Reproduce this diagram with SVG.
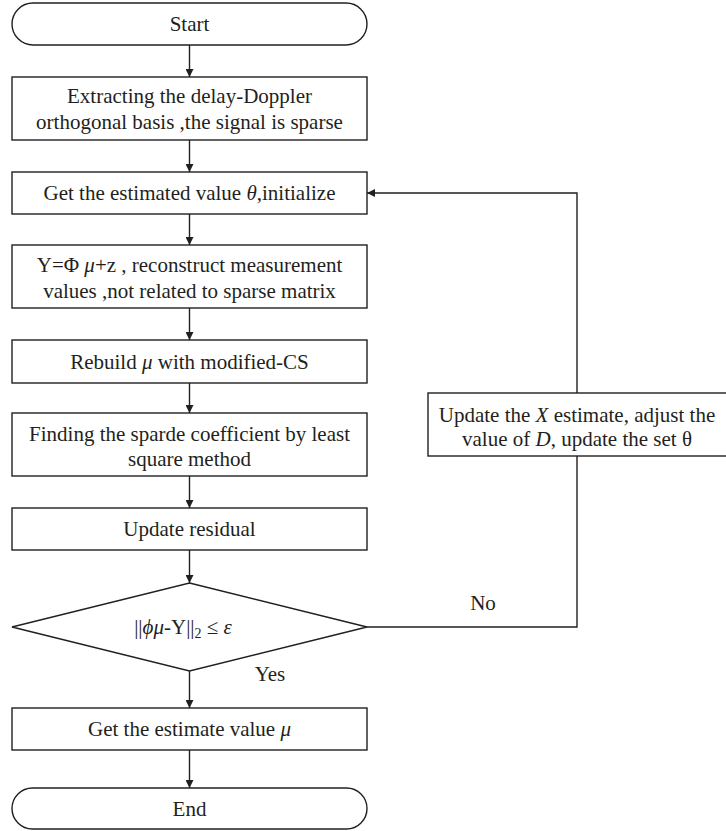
<svg xmlns="http://www.w3.org/2000/svg" width="726" height="831" viewBox="0 0 726 831">
<defs>
<marker id="ah" viewBox="0 0 10 10" refX="10" refY="5" markerWidth="8" markerHeight="8" markerUnits="userSpaceOnUse" orient="auto">
<path d="M0,0 L10,5 L0,10 z" fill="#231f20"/>
</marker>
</defs>
<style>
.b{fill:#fff;stroke:#231f20;stroke-width:1.4}
.t{font-family:"Liberation Serif","Times New Roman",serif;font-size:21px;fill:#231f20;text-anchor:middle}
.i{font-style:italic}
.c{fill:none;stroke:#231f20;stroke-width:1.4}
</style>
<rect width="726" height="831" fill="#fff"/>
<g id="start"><rect class="b" x="12" y="3" width="355" height="42" rx="21" ry="21"/><text class="t" x="189.5" y="31">Start</text></g>
<g id="extract"><rect class="b" x="12" y="77" width="355" height="63"/><text class="t" x="189.5" y="103">Extracting the delay-Doppler</text><text class="t" x="189.5" y="129">orthogonal basis ,the signal is sparse</text></g>
<g id="getest"><rect class="b" x="12" y="172" width="355" height="42"/><text class="t" x="189.5" y="200">Get the estimated value <tspan class="i">θ</tspan>,initialize</text></g>
<g id="recon"><rect class="b" x="12" y="245" width="355" height="63"/><text class="t" x="189.5" y="272">Y=Φ <tspan class="i">μ</tspan>+z , reconstruct measurement</text><text class="t" x="189.5" y="298">values ,not related to sparse matrix</text></g>
<g id="rebuild"><rect class="b" x="12" y="340" width="355" height="43"/><text class="t" x="189.5" y="369">Rebuild <tspan class="i">μ</tspan> with modified-CS</text></g>
<g id="finding"><rect class="b" x="12" y="413" width="355" height="63"/><text class="t" x="189.5" y="441">Finding the sparde coefficient by least</text><text class="t" x="189.5" y="466">square method</text></g>
<g id="residual"><rect class="b" x="12" y="508" width="355" height="42"/><text class="t" x="189.5" y="536">Update residual</text></g>
<g id="decision"><polygon class="b" points="189.5,583 367,627 189.5,671 12,627"/><text class="t" x="183" y="634">||<tspan class="i">ϕμ</tspan>-Y||<tspan font-size="14" dy="4">2</tspan><tspan dy="-4"> ≤ </tspan><tspan class="i">ε</tspan></text></g>
<g id="update"><rect class="b" x="428" y="393" width="300" height="63"/><text class="t" x="577" y="422">Update the <tspan class="i">X</tspan> estimate, adjust the</text><text class="t" x="577" y="446">value of <tspan class="i">D</tspan>, update the set θ</text></g>
<g id="result"><rect class="b" x="12" y="708" width="355" height="42"/><text class="t" x="189.5" y="736">Get the estimate value <tspan class="i">μ</tspan></text></g>
<g id="end"><rect class="b" x="12" y="788" width="355" height="41" rx="20.5" ry="20.5"/><text class="t" x="189.5" y="816">End</text></g>
<g id="connectors">
<line class="c" x1="189.5" y1="45" x2="189.5" y2="77" marker-end="url(#ah)"/>
<line class="c" x1="189.5" y1="140" x2="189.5" y2="172" marker-end="url(#ah)"/>
<line class="c" x1="189.5" y1="214" x2="189.5" y2="245" marker-end="url(#ah)"/>
<line class="c" x1="189.5" y1="308" x2="189.5" y2="340" marker-end="url(#ah)"/>
<line class="c" x1="189.5" y1="383" x2="189.5" y2="413" marker-end="url(#ah)"/>
<line class="c" x1="189.5" y1="476" x2="189.5" y2="508" marker-end="url(#ah)"/>
<line class="c" x1="189.5" y1="550" x2="189.5" y2="583" marker-end="url(#ah)"/>
<line class="c" x1="189.5" y1="671" x2="189.5" y2="708" marker-end="url(#ah)"/>
<line class="c" x1="189.5" y1="750" x2="189.5" y2="788" marker-end="url(#ah)"/>
<polyline class="c" points="367,627 577,627 577,456"/>
<polyline class="c" points="577,393 577,193 367,193" marker-end="url(#ah)"/>
<text class="t" x="270" y="681">Yes</text>
<text class="t" x="483" y="610">No</text>
</g>
</svg>
